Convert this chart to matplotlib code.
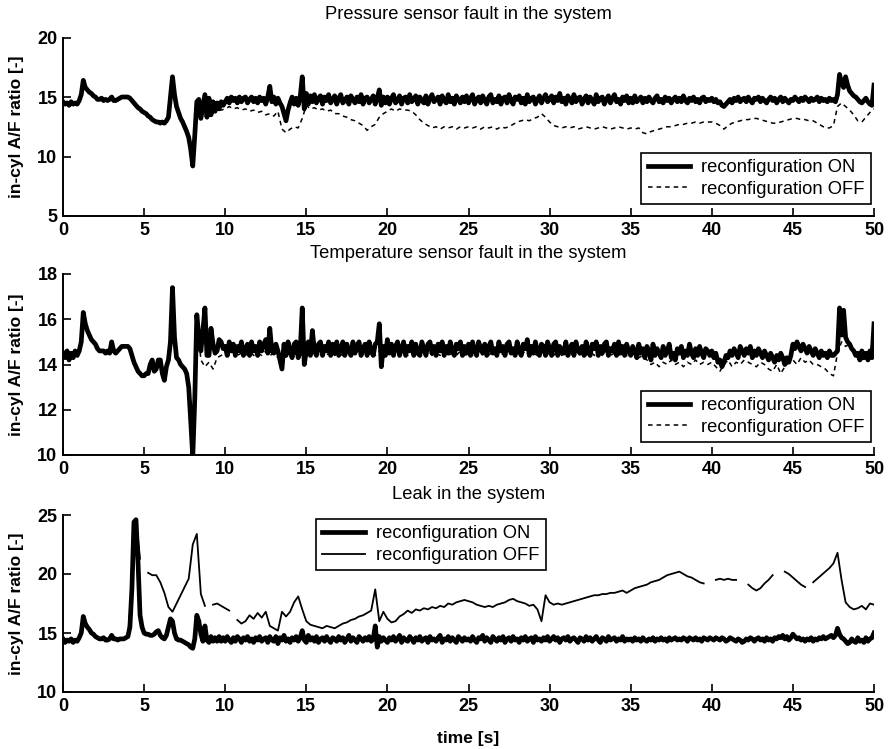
import numpy as np
import matplotlib
matplotlib.use("Agg")
import matplotlib.pyplot as plt

plt.rcParams['font.family'] = ['Liberation Sans', 'DejaVu Sans']

# sample times [s]: ON runs logged every 0.125 s, OFF runs every 0.25 s
t_on = np.arange(0, 50.001, 0.125)
t_off = np.arange(0, 50.001, 0.25)
nan = float('nan')

# ---------------- pressure sensor fault ----------------
press_on = [
    14.6, 14.4, 14.5, 14.3, 14.6, 14.4, 14.5, 14.4,
    14.7, 15.2, 16.4, 15.8, 15.6, 15.4, 15.3, 15.1,
    15.0, 14.8, 14.8, 14.9, 14.7, 14.8, 14.7, 14.8,
    15.0, 14.7, 14.7, 14.8, 14.9, 15.0, 15.0, 15.0,
    15.0, 14.9, 14.7, 14.5, 14.3, 14.1, 14.0, 13.8,
    13.7, 13.6, 13.4, 13.3, 13.1, 13.0, 12.9, 12.9,
    12.8, 12.9, 12.8, 13.0, 13.3, 15.0, 16.7, 15.2,
    14.2, 13.7, 13.2, 12.9, 12.5, 12.1, 11.6, 10.6,
    9.2, 11.8, 14.6, 14.8, 13.2, 14.2, 15.2, 13.3,
    14.9, 13.5, 14.6, 13.8, 14.5, 14.0, 14.6, 14.3,
    14.6, 14.9, 14.5, 15.0, 14.7, 14.9, 14.5, 15.0,
    14.6, 14.9, 15.0, 14.5, 14.8, 15.0, 14.6, 14.9,
    14.5, 15.0, 14.7, 14.9, 14.4, 15.0, 15.9, 14.6,
    15.0, 14.4, 14.9, 14.5, 14.2, 13.6, 13.0, 13.9,
    14.5, 15.0, 14.4, 14.9, 14.3, 15.0, 16.7, 14.0,
    15.3, 14.4, 15.1, 14.6, 15.2, 14.5, 14.9, 15.1,
    14.4, 15.0, 14.7, 15.2, 14.5, 14.8, 15.1, 14.4,
    14.9, 15.2, 14.5, 14.7, 15.0, 14.4, 15.1, 14.8,
    14.5, 15.0, 14.6, 15.2, 14.4, 14.9, 15.0, 14.5,
    14.8, 15.1, 14.4, 14.9, 15.6, 14.3, 15.0, 14.5,
    15.0, 14.4, 14.9, 15.2, 14.5, 14.7, 15.1, 14.4,
    14.9, 15.0, 14.5, 15.2, 14.6, 14.8, 15.1, 14.4,
    15.0, 14.7, 14.5, 15.1, 14.4, 14.9, 15.2, 14.6,
    14.8, 15.0, 14.4, 15.1, 14.7, 14.5, 15.2, 14.6,
    14.9, 14.4, 15.1, 14.8, 14.5, 15.0, 14.6, 15.1,
    14.5, 14.9, 15.2, 14.4, 14.8, 15.0, 14.5, 15.1,
    14.7, 14.4, 15.0, 15.2, 14.5, 14.8, 14.6, 15.1,
    14.4, 14.9, 15.0, 14.5, 15.2, 14.7, 14.4, 15.0,
    14.8, 15.1, 14.5, 14.9, 14.4, 15.2, 14.6, 14.9,
    15.0, 14.4, 14.8, 15.1, 14.5, 14.9, 15.2, 14.6,
    14.8, 15.1, 14.5, 15.0, 14.7, 15.3, 14.6, 14.9,
    14.4, 15.1, 14.8, 14.5, 15.2, 14.6, 14.9, 15.0,
    14.4, 14.8, 15.1, 14.5, 15.0, 14.7, 14.4, 15.2,
    14.6, 14.9, 15.0, 14.4, 14.8, 15.1, 14.5, 14.9,
    15.2, 14.6, 14.8, 14.4, 15.0, 14.7, 15.1, 14.5,
    14.9, 14.5, 15.1, 14.6, 14.8, 15.0, 14.5, 14.9,
    14.6, 15.0, 14.7, 14.5, 14.9, 15.1, 14.6, 14.8,
    14.5, 15.0, 14.7, 14.9, 14.5, 14.8, 15.0, 14.6,
    14.9, 14.6, 15.1, 14.7, 14.5, 14.9, 14.7, 15.0,
    14.6, 14.8, 14.5, 14.9, 15.0, 14.6, 14.8, 14.7,
    14.9, 14.6, 14.8, 14.5, 14.6, 14.3, 14.2, 14.4,
    14.6, 14.8, 14.5, 14.9, 14.7, 15.0, 14.6, 14.8,
    14.9, 14.6, 15.0, 14.7, 14.5, 14.9, 14.8, 15.0,
    14.6, 14.9, 14.7, 14.5, 14.8, 15.0, 14.7, 14.9,
    14.5, 14.8, 15.0, 14.6, 14.9, 14.7, 14.5, 14.8,
    14.7, 15.0, 14.8, 14.6, 14.9, 14.7, 15.0, 14.8,
    14.6, 14.9, 14.7, 14.8, 15.0, 14.6, 14.9, 14.7,
    14.8, 14.6, 14.9, 14.7, 14.8, 14.6, 15.2, 16.9,
    16.2, 15.8, 16.7, 16.0, 15.5, 15.3, 15.1, 15.0,
    14.8, 14.6, 14.5, 14.7, 14.9, 14.6, 14.4, 14.3,
    16.0,
]
press_off_tail = [
    13.6, 13.9, 14.0, 13.9,
    14.0, 14.2, 14.0, 14.1, 13.9, 14.0, 13.8, 13.9, 13.7, 13.8, 13.5, 13.6, 13.4, 13.8, 12.3, 12.0, 12.3, 12.5, 12.4, 13.2,
    14.3, 14.0, 14.1, 13.9, 14.0, 13.8, 13.9, 13.6, 13.6, 13.4, 13.3, 13.1, 13.0, 12.8, 12.6, 12.2, 12.5, 12.7, 13.3, 13.6,
    13.8, 14.0, 13.8, 14.0, 13.9, 13.9, 13.8, 13.5, 13.1, 12.8, 12.6, 12.4, 12.5, 12.3, 12.5, 12.4, 12.5, 12.3, 12.5, 12.4,
    12.5, 12.4, 12.5, 12.3, 12.5, 12.4, 12.5, 12.3, 12.5, 12.4, 12.5, 12.7, 12.9, 13.0, 13.1, 13.0, 13.2, 13.3, 13.6, 13.3,
    12.9, 12.6, 12.5, 12.4, 12.5, 12.4, 12.5, 12.3, 12.4, 12.5, 12.4, 12.3, 12.4, 12.5, 12.4, 12.3, 12.4, 12.5, 12.4, 12.3,
    12.4, 12.3, 12.4, 12.0, 11.9, 12.1, 12.2, 12.3, 12.4, 12.5, 12.5, 12.6, 12.7, 12.7, 12.8, 12.8, 12.9, 12.8, 12.9, 12.9,
    12.9, 12.8, 12.6, 12.3, 12.6, 12.8, 12.9, 13.0, 13.1, 13.1, 13.2, 13.2, 13.1, 13.0, 12.9, 12.8, 12.8, 12.9, 13.0, 13.1,
    13.2, 13.2, 13.1, 13.1, 13.0, 13.0, 12.8, 12.6, 12.4, 12.4, 12.6, 14.2, 14.5, 14.2, 13.9, 13.5, 13.0, 12.9, 13.3, 13.7,
    14.0,
]
# without reconfiguration the trace coincides with the ON run until 9 s
press_off = press_on[0:72:2] + press_off_tail

# ---------------- temperature sensor fault ----------------
temp_on = [
    14.5, 14.3, 14.6, 14.2, 14.5, 14.3, 14.6, 14.4,
    14.6, 15.0, 16.3, 15.8, 15.5, 15.3, 15.1, 15.0,
    14.9, 14.7, 14.6, 14.6, 14.6, 14.5, 14.6, 14.5,
    15.0, 14.6, 14.5, 14.6, 14.7, 14.8, 14.8, 14.8,
    14.8, 14.7, 14.4, 14.1, 13.9, 13.7, 13.6, 13.5,
    13.5, 13.6, 13.6, 14.0, 14.2, 13.7, 13.8, 14.2,
    14.2, 13.6, 13.3, 13.9, 14.2, 15.0, 17.4, 15.2,
    14.3, 14.2, 14.0, 13.9, 13.8, 13.6, 13.0, 11.5,
    9.9, 12.5, 16.2, 15.2, 14.6, 15.5, 16.5, 14.4,
    14.4, 15.6, 14.9, 14.5, 14.6, 15.1, 15.0, 14.7,
    14.8, 14.4, 15.0, 14.6, 14.9, 14.4, 14.8, 14.6,
    15.0, 14.4, 14.7, 14.9, 14.4, 15.0, 14.6, 14.8,
    14.4, 15.0, 14.6, 14.9, 15.1, 14.5, 15.6, 14.6,
    14.5, 14.9, 14.6, 14.2, 13.8, 14.9, 14.4, 15.0,
    14.6, 14.3, 14.9, 15.0, 14.3, 14.6, 16.5, 14.0,
    14.6, 15.0, 14.4, 15.5, 14.6, 14.4, 14.9, 15.0,
    14.4, 14.8, 14.6, 15.0, 14.4, 14.9, 14.5, 15.0,
    14.4, 14.7, 15.0, 14.4, 14.9, 14.6, 14.4, 15.0,
    14.5, 14.8, 15.0, 14.4, 14.7, 14.9, 14.4, 15.0,
    14.6, 14.4, 14.9, 15.0, 15.8, 13.9, 14.8, 14.4,
    15.1, 14.5, 14.9, 14.4, 14.8, 15.0, 14.4, 14.7,
    15.0, 14.4, 14.8, 14.6, 15.0, 14.4, 14.9, 14.5,
    14.4, 15.0, 14.7, 14.4, 14.9, 15.0, 14.5, 14.8,
    14.4, 14.9, 14.6, 15.0, 14.4, 14.8, 14.5, 15.0,
    14.6, 14.4, 14.9, 14.7, 15.0, 14.4, 14.8, 14.5,
    14.9, 14.4, 15.0, 14.6, 14.4, 15.0, 14.7, 14.5,
    14.9, 14.4, 14.8, 15.0, 14.5, 14.7, 14.4, 15.0,
    14.6, 14.8, 14.4, 14.9, 15.0, 14.5, 14.7, 14.4,
    15.0, 14.6, 14.4, 14.9, 14.7, 15.1, 14.4, 14.8,
    14.5, 15.0, 14.6, 14.4, 14.9, 14.8, 14.4, 15.0,
    14.7, 14.4, 14.9, 15.0, 14.4, 14.8, 14.6, 14.5,
    15.0, 14.4, 14.7, 14.9, 14.4, 15.0, 14.6, 14.5,
    14.8, 14.4, 15.0, 14.6, 14.4, 14.9, 14.7, 15.0,
    14.4, 14.8, 14.5, 14.9, 15.0, 14.4, 14.7, 14.6,
    14.9, 14.4, 15.0, 14.5, 14.8, 14.4, 14.9, 14.6,
    14.4, 14.8, 14.6, 14.3, 14.9, 14.5, 14.7, 14.3,
    14.8, 14.6, 14.2, 14.9, 14.4, 14.7, 14.5, 14.3,
    14.8, 14.4, 14.6, 14.9, 14.3, 14.5, 14.2, 14.7,
    14.5, 14.8, 14.3, 14.6, 14.4, 14.9, 14.5, 14.3,
    14.7, 14.4, 14.8, 14.5, 14.3, 14.7, 14.6, 14.4,
    14.6, 14.3, 14.5, 14.1, 14.2, 13.9, 14.1, 14.4,
    14.3, 14.6, 14.4, 14.7, 14.5, 14.3, 14.8, 14.6,
    14.4, 14.7, 14.5, 14.8, 14.3, 14.6, 14.4, 14.7,
    14.5, 14.3, 14.6, 14.4, 14.2, 14.5, 14.3, 14.1,
    14.4, 14.2, 14.5, 14.3, 14.0, 14.3, 14.1, 14.4,
    14.9, 14.7, 15.0, 14.8, 14.6, 14.9, 14.7, 14.5,
    14.8, 14.6, 14.4, 14.7, 14.5, 14.3, 14.6, 14.4,
    14.5, 14.3, 14.6, 14.4, 14.4, 14.5, 14.6, 16.5,
    15.3, 16.4, 15.2, 15.0, 14.9, 14.7, 14.6, 14.4,
    14.5, 14.2, 14.6, 14.3, 14.5, 14.2, 14.6, 14.3,
    15.8,
]
temp_off_tail = [
    14.2, 13.9, 14.1, 13.8, 14.3, 14.4,
    14.5, 14.4, 14.6, 14.4, 14.5, 14.4, 14.6, 14.4, 14.5, 14.4, 14.6, 14.4, 14.5, 14.3, 14.6, 14.4, 14.5, 14.4, 14.6, 14.4,
    14.5, 14.4, 14.6, 14.4, 14.5, 14.4, 14.6, 14.4, 14.5, 14.4, 14.6, 14.4, 14.5, 14.4, 14.6, 14.4, 14.5, 14.4, 14.6, 14.4,
    14.5, 14.4, 14.6, 14.4, 14.5, 14.4, 14.6, 14.4, 14.5, 14.4, 14.6, 14.4, 14.5, 14.4, 14.6, 14.4, 14.5, 14.4, 14.6, 14.4,
    14.5, 14.4, 14.6, 14.4, 14.5, 14.4, 14.6, 14.4, 14.5, 14.4, 14.6, 14.4, 14.5, 14.4, 14.6, 14.4, 14.5, 14.4, 14.6, 14.4,
    14.5, 14.4, 14.6, 14.4, 14.5, 14.4, 14.6, 14.4, 14.5, 14.4, 14.6, 14.4, 14.5, 14.4, 14.6, 14.4, 14.5, 14.4, 14.6, 14.4,
    14.4, 14.5, 14.3, 14.4, 14.2, 14.0, 14.1, 13.9, 14.1, 14.0, 14.2, 14.0, 14.1, 13.9, 14.1, 14.0, 14.2, 14.0, 14.1, 14.0,
    14.1, 13.9, 13.7, 14.0, 14.2, 13.9, 14.1, 14.0, 14.2, 14.1, 14.0, 13.9, 14.1, 14.0, 13.8, 13.7, 14.0, 13.6, 13.9, 14.1,
    14.2, 14.0, 14.3, 14.1, 14.2, 14.0, 14.0, 13.9, 13.8, 13.6, 13.5, 14.5, 15.0, 14.8, 14.9, 14.5, 14.4, 14.2, 14.5, 14.3,
    15.6,
]
temp_off = temp_on[0:68:2] + temp_off_tail

# ---------------- leak ----------------
leak_on = [
    14.5, 14.2, 14.4, 14.3, 14.5, 14.2, 14.4, 14.3,
    14.6, 15.0, 16.4, 15.8, 15.5, 15.3, 15.0, 14.9,
    14.7, 14.6, 14.5, 14.5, 14.6, 14.4, 14.4, 14.5,
    14.8, 14.5, 14.5, 14.4, 14.5, 14.5, 14.5, 14.6,
    14.7, 15.5, 18.8, 24.4, 24.6, 21.0, 16.5, 15.5,
    15.0, 14.9, 14.9, 14.8, 14.8, 14.9, 15.1, 15.2,
    14.8, 14.6, 14.5, 14.8, 15.5, 16.2, 16.0, 15.0,
    14.5, 14.4, 14.4, 14.3, 14.2, 14.1, 14.0, 13.8,
    13.7, 14.5, 16.5, 16.0, 14.9, 14.3, 15.6, 14.4,
    14.2, 14.7, 14.3, 14.6, 14.3, 14.7, 14.3, 14.6,
    14.3, 14.7, 14.4, 14.2, 14.6, 14.3, 14.7, 14.5,
    14.2, 14.6, 14.4, 14.7, 14.3, 14.5, 14.2, 14.6,
    14.4, 14.7, 14.3, 14.5, 14.6, 14.2, 14.7, 14.4,
    14.3, 14.7, 14.1, 14.6, 14.4, 14.8, 14.3, 14.5,
    14.2, 14.6, 14.4, 14.7, 14.3, 14.6, 15.2, 14.4,
    14.2, 14.8, 14.4, 14.6, 14.3, 14.7, 14.2, 14.5,
    14.6, 14.3, 14.7, 14.4, 14.2, 14.6, 14.5, 14.3,
    14.7, 14.4, 14.6, 14.2, 14.5, 14.8, 14.3, 14.6,
    14.4, 14.2, 14.7, 14.5, 14.3, 14.6, 14.4, 14.7,
    14.3, 14.5, 15.6, 13.8, 14.7, 14.3, 14.6, 14.4,
    14.2, 14.6, 14.4, 14.7, 14.3, 14.5, 14.8, 14.2,
    14.6, 14.4, 14.3, 14.7, 14.5, 14.2, 14.6, 14.4,
    14.7, 14.3, 14.5, 14.6, 14.2, 14.7, 14.4, 14.5,
    14.3, 14.6, 14.8, 14.2, 14.5, 14.4, 14.7, 14.3,
    14.6, 14.4, 14.2, 14.7, 14.5, 14.3, 14.6, 14.4,
    14.5, 14.3, 14.7, 14.4, 14.2, 14.6, 14.5, 14.8,
    14.3, 14.6, 14.4, 14.2, 14.7, 14.5, 14.3, 14.6,
    14.4, 14.7, 14.2, 14.5, 14.6, 14.3, 14.7, 14.4,
    14.5, 14.2, 14.6, 14.4, 14.7, 14.3, 14.5, 14.6,
    14.2, 14.7, 14.4, 14.5, 14.3, 14.6, 14.4, 14.7,
    14.3, 14.5, 14.7, 14.4, 14.6, 14.2, 14.5, 14.6,
    14.4, 14.7, 14.3, 14.5, 14.6, 14.4, 14.2, 14.6,
    14.5, 14.3, 14.7, 14.4, 14.6, 14.3, 14.5, 14.7,
    14.4, 14.2, 14.6, 14.5, 14.3, 14.7, 14.4, 14.5,
    14.6, 14.3, 14.5, 14.4, 14.7, 14.3, 14.5, 14.4,
    14.5, 14.3, 14.6, 14.4, 14.5, 14.3, 14.6, 14.4,
    14.3, 14.5, 14.4, 14.6, 14.3, 14.5, 14.4, 14.6,
    14.4, 14.5, 14.3, 14.6, 14.4, 14.5, 14.6, 14.4,
    14.5, 14.4, 14.6, 14.5, 14.3, 14.6, 14.5, 14.4,
    14.6, 14.4, 14.5, 14.3, 14.6, 14.5, 14.4, 14.6,
    14.5, 14.4, 14.6, 14.5, 14.4, 14.6, 14.5, 14.3,
    14.4, 14.6, 14.5, 14.4, 14.3, 14.5, 14.4, 14.2,
    14.3, 14.5, 14.4, 14.6, 14.5, 14.3, 14.5, 14.6,
    14.4, 14.5, 14.3, 14.6, 14.4, 14.5, 14.3, 14.6,
    14.5, 14.7, 14.6, 14.8, 14.5, 14.7, 14.4, 14.6,
    14.9, 14.7, 14.5, 14.6, 14.4, 14.5, 14.3, 14.5,
    14.4, 14.6, 14.3, 14.5, 14.4, 14.6, 14.5, 14.7,
    14.5, 14.6, 14.7, 14.8, 14.6, 14.8, 15.4, 14.9,
    14.6, 14.5, 14.3, 14.1, 14.2, 14.5, 14.3, 14.2,
    14.6, 14.3, 14.4, 14.2, 14.6, 14.3, 14.5, 14.6,
    15.0,
]
leak_off_tail = [
    21.3,
    nan, 20.1, 19.9, 19.9, 19.3, 18.4, 17.2, 16.8, 17.5, 18.2, 18.9, 19.6, 22.5, 23.4, 18.3, 17.3, nan, 17.4, 17.5, 17.3,
    17.1, 16.9, nan, 16.1, 15.8, 16.0, 16.5, 16.2, 16.7, 16.3, 16.8, 15.6, 15.4, 15.2, 16.8, 16.4, 16.8, 17.6, 18.1, 17.0,
    16.0, 15.7, 15.6, 15.5, 15.4, 15.6, 15.5, 15.4, 15.6, 15.8, 15.9, 16.1, 16.2, 16.4, 16.5, 16.7, 16.9, 18.7, 16.0, 16.8,
    16.2, 15.9, 16.0, 16.4, 16.6, 16.9, 16.7, 17.0, 16.9, 17.1, 17.0, 17.2, 17.1, 17.3, 17.2, 17.5, 17.4, 17.6, 17.7, 17.8,
    17.7, 17.6, 17.4, 17.3, 17.2, 17.3, 17.2, 17.4, 17.5, 17.6, 17.8, 17.9, 17.7, 17.6, 17.5, 17.3, 17.4, 17.0, 16.0, 18.2,
    17.6, 17.4, 17.5, 17.4, 17.5, 17.6, 17.7, 17.8, 17.9, 18.0, 18.1, 18.2, 18.2, 18.3, 18.3, 18.4, 18.4, 18.5, 18.6, 18.4,
    18.6, 18.8, 18.9, 19.0, 19.1, 19.3, 19.4, 19.5, 19.7, 19.9, 20.0, 20.1, 20.2, 20.0, 19.8, 19.7, 19.5, 19.3, 19.2, nan,
    nan, 19.5, 19.6, 19.5, 19.6, 19.5, 19.5, nan, nan, 19.1, 18.8, 18.6, 18.8, 19.2, 19.5, 19.9, nan, nan, 20.2, 20.0,
    19.7, 19.4, 19.1, 18.9, nan, 19.3, 19.6, 19.9, 20.2, 20.5, 20.9, 21.8, 19.5, 17.6, 17.2, 17.0, 17.1, 17.3, 17.0, 17.5,
    17.4,
]
leak_off = leak_on[0:38:2] + leak_off_tail

titles = ["Pressure sensor fault in the system",
          "Temperature sensor fault in the system",
          "Leak in the system"]
ylims = [(5, 20), (10, 18), (10, 25)]
ystep = [5, 2, 5]
xticks = [0, 5, 10, 15, 20, 25, 30, 35, 40, 45, 50]
label_on = "reconfiguration ON"
label_off = "reconfiguration OFF"

on_series = [press_on, temp_on, leak_on]
off_series = [press_off, temp_off, leak_off]

fig = plt.figure(figsize=(8.88, 7.49), dpi=100)
W, H = 888.0, 749.0
left, right = 63, 874
# (top_px, bottom_px) of each axes
rows_px = [(37.5, 216), (274, 455), (515, 692)]
title_y = [1.127, 1.113, 1.116]
legend_kw = dict(fontsize=13.2, handlelength=2.3, handletextpad=0.6,
                 borderpad=0.35, labelspacing=0.25, fancybox=False,
                 framealpha=1, edgecolor='black', borderaxespad=0)

for i in range(3):
    top, bot = rows_px[i]
    ax = fig.add_axes([left / W, 1 - bot / H, (right - left) / W, (bot - top) / H])
    assert len(on_series[i]) == len(t_on), (i, len(on_series[i]))
    assert len(off_series[i]) == len(t_off), (i, len(off_series[i]))
    if i < 2:
        off_line, = ax.plot(t_off, off_series[i], color='black', lw=1.1,
                            ls=(0, (3.0, 2.6)), label=label_off, zorder=2)
    else:
        off_line, = ax.plot(t_off, off_series[i], color='black', lw=1.3,
                            ls='-', label=label_off, zorder=2)
    on_line, = ax.plot(t_on, on_series[i], color='black', lw=3.4,
                       solid_joinstyle='round', label=label_on, zorder=3)

    ax.set_xlim(0, 50)
    ax.set_ylim(*ylims[i])
    ax.set_xticks(xticks)
    ax.set_yticks(np.arange(ylims[i][0], ylims[i][1] + 0.01, ystep[i]))
    for s in ['top', 'right']:
        ax.spines[s].set_visible(False)
    for s in ['left', 'bottom']:
        ax.spines[s].set_linewidth(1.4)
    ax.tick_params(direction='in', length=6, width=1.2, labelsize=13, pad=4)
    for lab in ax.get_xticklabels() + ax.get_yticklabels():
        lab.set_fontweight('bold')

    ax.set_ylabel("in-cyl A/F ratio [-]", fontsize=12.5, fontweight='bold')
    ax.yaxis.set_label_coords(-0.048, 0.5)
    ax.text(0.5, title_y[i], titles[i], transform=ax.transAxes,
            ha='center', va='center', fontsize=13.2)

    if i < 2:
        leg_anchor = (0.996, 0.067 if i == 0 else 0.072)
        leg = ax.legend([on_line, off_line], [label_on, label_off],
                        loc='lower right', bbox_to_anchor=leg_anchor, **legend_kw)
    else:
        leg = ax.legend([on_line, off_line], [label_on, label_off],
                        loc='upper left', bbox_to_anchor=(0.312, 0.977), **legend_kw)
        ax.set_xlabel("time [s]", fontsize=12.5, fontweight='bold', labelpad=12)
    leg.get_frame().set_linewidth(1.2)

fig.savefig("out.png", dpi=100)
